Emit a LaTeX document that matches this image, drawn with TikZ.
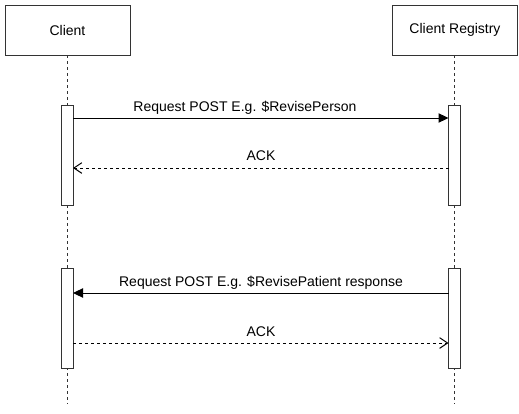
\documentclass[tikz,border=0pt]{standalone}
\usepackage{fontspec}
\setmainfont{Liberation Sans}
\usetikzlibrary{arrows.meta}
\begin{document}
\begin{tikzpicture}[x=0.75pt,y=-0.75pt,
  actor/.style={draw=black!80,line width=0.75pt,fill=white,minimum width=125*0.75pt,minimum height=50*0.75pt,font=\fontsize{10.5}{12}\selectfont,inner sep=0pt},
  act/.style={draw=black!80,line width=0.75pt,fill=white,minimum width=12*0.75pt,minimum height=100*0.75pt,inner sep=0pt},
  life/.style={draw=black!80,line width=0.75pt,dash pattern=on 2.25pt off 2.25pt},
  msg/.style={line width=0.75pt,-{Triangle[length=7.5pt,width=7pt]}},
  ack/.style={line width=0.75pt,dash pattern=on 2.25pt off 2.25pt,-{Straight Barb[length=6pt,width=8pt,line width=0.75pt]}},
  lbl/.style={font=\fontsize{10.5}{12}\selectfont,inner sep=0pt,anchor=base}]
\useasboundingbox (0,0) rectangle (519,414);
% lifelines
\coordinate (cl0) at (67.5,55);
\coordinate (cl1) at (67.5,404);
\coordinate (cr0) at (454.5,55);
\coordinate (cr1) at (454.5,404);
\draw[life] (cl0) -- (cl1);
\draw[life] (cr0) -- (cr1);
% actors
\node[actor] (client) at (67.5,30) {Client};
\node[actor] (registry) at (455,30) {Client Registry};
% activations
\node[act] (a1) at (67,155) {};
\node[act] (b1) at (454.5,155) {};
\node[act] (a2) at (67,318) {};
\node[act] (b2) at (454.5,318) {};
% messages
\coordinate (m1s) at (73,118);
\coordinate (m1e) at (448.5,118);
\draw[msg] (m1s) -- (m1e);
\node[lbl] (t1) at (245,111) {Request POST E.g. \$RevisePerson};
\coordinate (k1s) at (448.5,168);
\coordinate (k1e) at (73,168);
\draw[ack] (k1s) -- (k1e);
\node[lbl] (t2) at (261,161) {ACK};
\coordinate (m2s) at (448.5,293);
\coordinate (m2e) at (73,293);
\draw[msg] (m2s) -- (m2e);
\node[lbl] (t3) at (261,286) {Request POST E.g. \$RevisePatient response};
\coordinate (k2s) at (73,343);
\coordinate (k2e) at (448.5,343);
\draw[ack] (k2s) -- (k2e);
\node[lbl] (t4) at (261,336) {ACK};
\end{tikzpicture}
\end{document}
